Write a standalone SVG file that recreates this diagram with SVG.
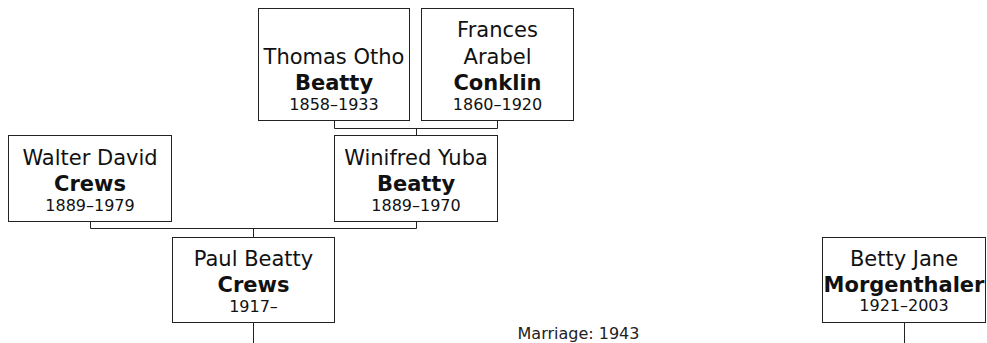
<svg xmlns="http://www.w3.org/2000/svg" width="987" height="343" viewBox="0 0 987 343">
<style>
.box{fill:#fff;stroke:#222;stroke-width:1}
.con{fill:none;stroke:#222;stroke-width:1}
text{font-family:"DejaVu Sans",Verdana,sans-serif;fill:#111;text-anchor:middle}
.n{font-size:21px}
.b{font-size:21px;font-weight:bold}
.d{font-size:16px}
.m{font-size:16px;fill:#222}
</style>
<rect width="987" height="343" fill="#fff"/>
<g id="connectors">
<path class="con" d="M334.5,120.5V128.5H497.5V120.5M416.5,128.5V135.5"/>
<path class="con" d="M90.5,221.5V228.5H416.5V221.5M253.5,228.5V237.5"/>
<path class="con" d="M253.5,322.5V343"/>
<path class="con" d="M904.5,322.5V343"/>
</g>
<g id="thomas">
<rect class="box" x="258.5" y="8.5" width="151" height="112"/>
<text class="n" x="334" y="63.5">Thomas Otho</text>
<text class="b" x="334" y="90">Beatty</text>
<text class="d" x="334" y="110">1858–1933</text>
</g>
<g id="frances">
<rect class="box" x="421.5" y="8.5" width="152" height="112"/>
<text class="n" x="497.5" y="37">Frances</text>
<text class="n" x="497.5" y="63.5">Arabel</text>
<text class="b" x="497.5" y="90">Conklin</text>
<text class="d" x="497.5" y="110">1860–1920</text>
</g>
<g id="walter">
<rect class="box" x="8.5" y="135.5" width="163" height="86"/>
<text class="n" x="90" y="165">Walter David</text>
<text class="b" x="90" y="191">Crews</text>
<text class="d" x="90" y="210.5">1889–1979</text>
</g>
<g id="winifred">
<rect class="box" x="334.5" y="135.5" width="163" height="86"/>
<text class="n" x="416" y="165">Winifred Yuba</text>
<text class="b" x="416" y="191">Beatty</text>
<text class="d" x="416" y="210.5">1889–1970</text>
</g>
<g id="paul">
<rect class="box" x="172.5" y="237.5" width="162" height="85"/>
<text class="n" x="253.5" y="266">Paul Beatty</text>
<text class="b" x="253.5" y="292">Crews</text>
<text class="d" x="253.5" y="311.5">1917–</text>
</g>
<g id="betty">
<rect class="box" x="822.5" y="237.5" width="163" height="85"/>
<text class="n" x="904" y="265.5">Betty Jane</text>
<text class="b" x="904" y="291.5">Morgenthaler</text>
<text class="d" x="904" y="311">1921–2003</text>
</g>
<g id="marriage">
<text class="m" x="578.5" y="339">Marriage: 1943</text>
</g>
</svg>
